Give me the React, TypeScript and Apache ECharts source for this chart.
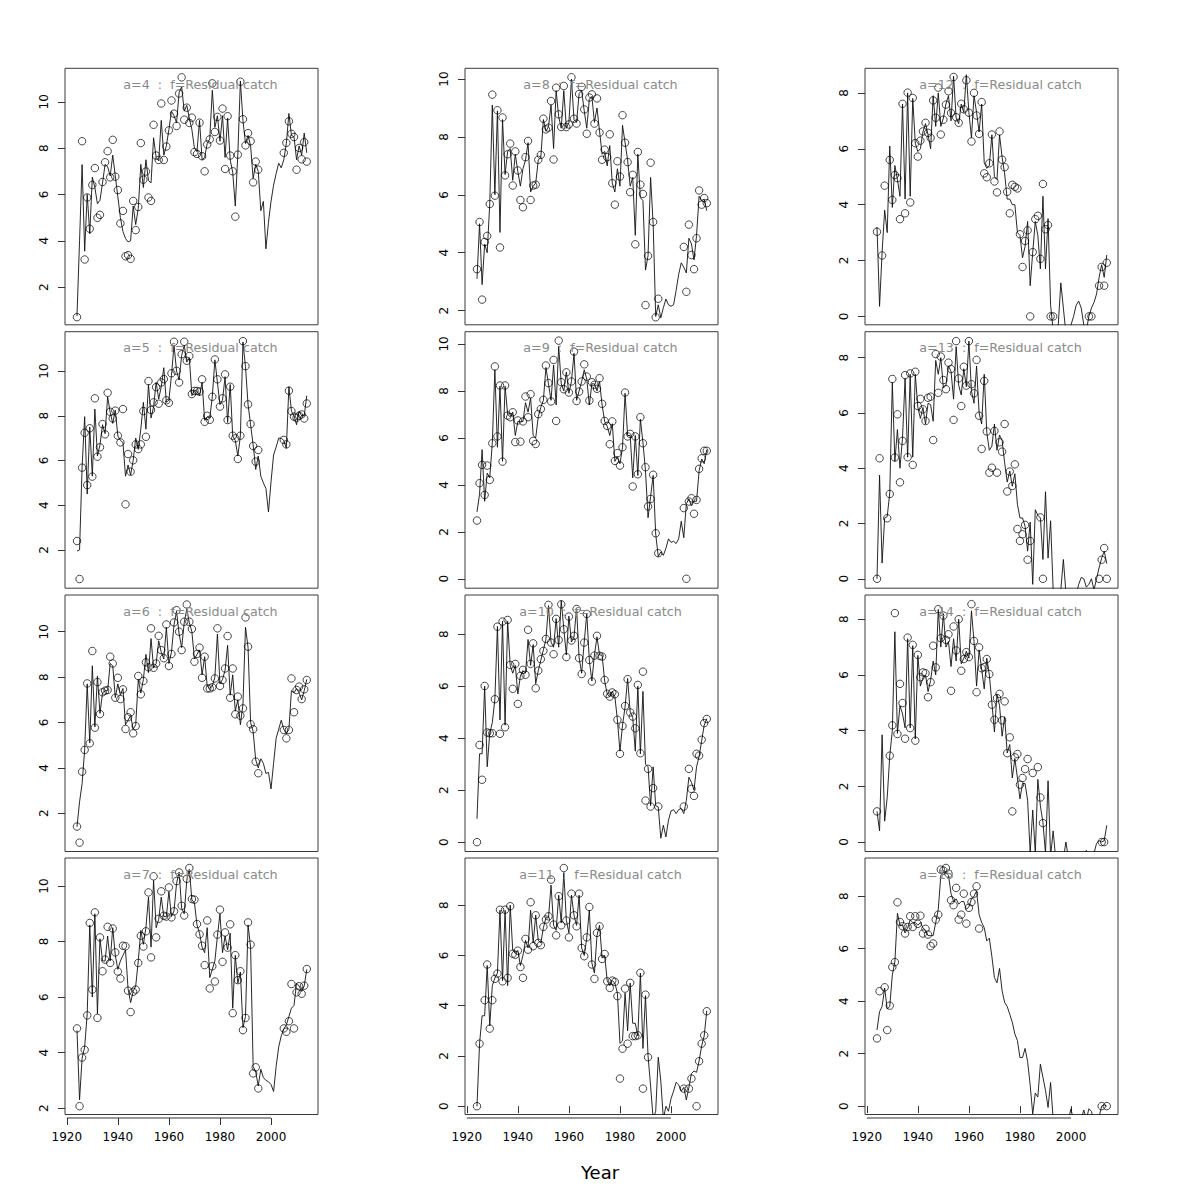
import React, { useEffect, useRef } from "react";
import * as echarts from "echarts";

const _ = null;
const FIRST_YEAR = 1924;
const X_MIN = 1919.3;
const X_MAX = 2018.4;
const xTicks = [1920, 1940, 1960, 1980, 2000];
const ticksFrom2 = [2, 4, 6, 8, 10];
const ticksFrom0to8 = [0, 2, 4, 6, 8];
const ticksFrom0to10 = [0, 2, 4, 6, 8, 10];
const xTitle = "Year";
const titleSuffix = "  :  f=Residual catch";

// ---- age 4 ----
const line4 = [
  0.75, 4.0, 7.29, 3.55, 6.0, 4.3, 6.75, 6.3, 5.6, 5.75,
  6.5, 7.3, 7.2, 6.8, 7.7, 6.8, 5.9, 5.0, 4.4, 4.1,
  3.95, 4.0, 5.5, 4.7, 5.4, 7.3, 6.3, 7.5, 6.6, 6.5,
  8.45, 7.6, 7.45, 9.2, 7.7, 8.1, 8.8, 9.6, 9.4, 9.1,
  10.4, 10.65, 9.6, 9.85, 9.3, 8.8, 8.0, 7.85, 9.2, 7.5,
  7.6, 8.2, 8.4, 10.5, 8.9, 9.4, 8.3, 9.4, 7.6, 9.3,
  7.5, 6.95, 5.5, 7.75, 10.9, 9.2, 8.2, 8.55, 8.1, 6.7,
  7.3, 7.0, 5.3, 5.7, 3.65, 4.8, 5.7, 6.4, 6.9, 7.35,
  7.15, 7.5, 8.2, 9.5, 8.55, 8.5, 7.5, 8.1, 7.7, 8.65,
  7.8,
];
const obs4 = [
  0.70, _, 8.30, 3.19, 5.87, 4.52, 6.41, 7.14, 4.99, 5.12,
  6.54, 7.39, 7.87, 6.74, 8.36, 6.77, 6.19, 4.75, 5.29, 3.33,
  3.38, 3.22, 5.72, 4.46, 5.46, 8.22, 6.64, 6.99, 5.87, 5.72,
  9.01, 7.68, 7.49, 9.93, 7.49, 8.07, 8.77, 10.06, 9.49, 8.96,
  10.36, 11.06, 9.23, 9.75, 9.09, 9.32, 7.83, 7.75, 9.10, 7.65,
  7.00, 8.16, 8.38, 10.80, 8.70, 9.35, 8.33, 9.71, 7.10, 9.38,
  7.68, 7.00, 5.04, 7.72, 10.87, 9.25, 8.12, 8.65, 8.30, 6.52,
  7.42, 7.07, _, _, _, _, _, _, _, _,
  _, 7.80, 8.23, 9.16, 8.62, 8.48, 7.07, 8.01, 7.52, 8.26,
  7.42,
];

// ---- age 5 ----
const line5 = [
  1.95, 2.0, 5.7, 7.96, 4.5, 7.5, 5.3, 8.3, 6.2, 6.7,
  7.6, 7.2, 8.85, 8.15, 7.66, 8.25, 7.1, 6.9, 6.8, 5.3,
  5.8, 5.35, 6.0, 7.0, 6.5, 7.4, 8.6, 7.4, 9.4, 7.9,
  8.4, 9.5, 8.75, 9.3, 10.15, 8.6, 8.7, 9.8, 11.16, 10.0,
  9.6, 10.7, 11.16, 10.4, 10.6, 8.9, 9.15, 9.1, 8.9, 9.5,
  7.8, 7.95, 7.9, 8.85, 10.5, 9.5, 8.5, 8.7, 9.75, 7.7,
  9.4, 7.1, 6.9, 6.2, 7.1, 11.3, 10.2, 8.5, 7.6, 6.7,
  5.6, 6.2, 5.3, 5.0, 4.75, 3.7, 5.05, 6.25, 6.6, 7.0,
  7.0, 6.9, 6.55, 9.3, 8.2, 8.0, 7.6, 8.2, 8.0, 8.0,
  8.9,
];
const obs5 = [
  2.40, 0.70, 5.68, 7.24, 4.90, 7.44, 5.28, 8.78, 6.17, 6.59,
  7.63, 7.17, 9.03, 8.18, 7.88, 8.23, 7.11, 6.81, 8.30, 4.04,
  6.29, 5.50, 6.01, 6.72, 6.51, 6.72, 8.21, 7.06, 9.55, 8.26,
  8.60, 9.28, 8.54, 9.49, 9.64, 8.69, 8.58, 9.90, 11.31, 10.01,
  9.49, 10.75, 11.31, 10.46, 10.67, 8.97, 9.11, 9.11, 9.08, 9.63,
  7.73, 8.00, 7.82, 8.85, 10.52, 9.63, 8.41, 8.78, 9.85, 7.81,
  9.30, 7.11, 6.99, 6.07, 7.11, 11.34, 10.22, 8.51, 7.63, 6.65,
  5.95, 6.47, _, _, _, _, _, _, _, _,
  _, 6.92, 6.72, 9.12, 8.21, 7.96, 7.91, 8.00, 8.06, 7.88,
  8.55,
];

// ---- age 6 ----
const line6 = [
  1.4, 2.5, 3.3, 4.8, 7.7, 5.1, 8.5, 5.8, 8.05, 6.4,
  7.3, 7.4, 7.4, 8.6, 8.5, 7.1, 7.7, 7.2, 7.5, 5.9,
  6.1, 6.3, 5.7, 5.9, 7.9, 7.3, 7.9, 9.0, 8.2, 9.7,
  8.4, 8.6, 9.6, 9.1, 8.8, 10.2, 8.6, 9.1, 10.3, 10.9,
  9.9, 9.3, 10.4, 11.0, 10.4, 10.0, 8.8, 9.0, 9.2, 8.1,
  8.9, 7.6, 7.5, 7.6, 8.0, 9.9, 7.7, 7.9, 8.3, 9.4,
  7.2, 8.1, 6.5, 7.0, 5.9, 6.8, 10.2, 9.3, 6.0, 5.6,
  4.35, 4.0, 4.4, 4.2, 3.75, 3.8, 3.07, 4.2, 5.3, 5.7,
  6.1, 5.7, 5.5, 5.7, 7.4, 7.3, 7.5, 7.3, 7.0, 7.4,
  7.9,
];
const obs6 = [
  1.41, 0.70, 3.83, 4.79, 7.72, 5.08, 9.15, 5.77, 7.78, 6.37,
  7.33, 7.40, 7.43, 8.90, 8.60, 7.09, 7.97, 7.03, 7.46, 5.71,
  6.23, 6.45, 5.52, 5.84, 8.05, 7.24, 7.83, 8.65, 8.43, 10.15,
  8.41, 8.60, 9.82, 9.19, 8.83, 10.32, 8.49, 9.02, 10.41, 10.95,
  10.00, 9.19, 10.44, 11.20, 10.44, 10.12, 8.68, 9.02, 9.30, 7.97,
  8.90, 7.50, 7.50, 7.55, 7.94, 10.15, 7.61, 7.87, 8.38, 9.81,
  7.09, 8.38, 6.36, 7.14, 6.30, 6.62, 10.63, 9.34, 5.92, 5.70,
  4.27, 3.76, _, _, _, _, _, _, _, _,
  _, 5.67, 5.30, 5.67, 7.94, 6.45, 7.43, 7.58, 7.03, 7.46,
  7.87,
];

// ---- age 7 ----
const line7 = [
  4.8, 2.3, 3.8, 4.2, 5.4, 8.6, 6.0, 9.0, 5.4, 8.1,
  7.3, 7.3, 8.2, 7.3, 8.5, 7.5, 7.0, 7.3, 7.5, 7.7,
  6.3, 5.8, 6.2, 6.4, 7.3, 8.4, 7.9, 8.5, 9.6, 7.8,
  10.2, 8.5, 8.8, 9.6, 8.9, 8.9, 9.8, 8.9, 9.1, 10.1,
  10.5, 9.2, 9.0, 10.2, 10.6, 9.5, 9.4, 8.6, 8.3, 7.8,
  7.6, 8.5, 6.7, 7.0, 7.3, 8.2, 9.0, 7.6, 8.2, 7.7,
  8.3, 5.6, 7.5, 6.5, 6.9, 4.9, 5.3, 8.6, 7.8, 3.5,
  3.3, 2.8, 3.4, 3.1, 3.0, 2.95, 2.85, 2.6, 3.5, 4.2,
  4.6, 4.85, 5.0, 5.3, 5.6, 5.7, 6.5, 6.4, 6.2, 6.4,
  7.0,
];
const obs7 = [
  4.87, 2.07, 3.82, 4.10, 5.34, 8.67, 6.27, 9.05, 5.25, 8.15,
  6.93, 7.35, 8.53, 7.23, 8.47, 7.61, 6.92, 6.67, 7.85, 7.83,
  6.23, 5.46, 6.19, 6.27, 7.23, 8.21, 7.82, 8.37, 9.77, 7.43,
  10.35, 8.15, 8.82, 9.81, 8.93, 8.90, 9.95, 8.87, 9.09, 10.18,
  10.49, 9.29, 8.94, 10.26, 10.65, 9.53, 9.51, 8.63, 8.26, 7.85,
  7.15, 8.76, 6.31, 7.11, 6.56, 8.25, 9.15, 7.27, 8.33, 7.78,
  8.62, 5.42, 7.51, 6.61, 6.93, 4.81, 5.25, 8.69, 7.89, 3.25,
  3.47, 2.71, _, _, _, _, _, _, _, _,
  _, 4.87, 4.75, 5.13, 6.47, 4.87, 6.17, 6.39, 6.12, 6.41,
  7.01,
];

// ---- age 8 ----
const line8 = [
  3.1, 5.0, 2.9, 4.3, 4.0, 5.7, 9.1, 6.0, 8.9, 4.7,
  8.6, 6.7, 7.5, 7.6, 6.5, 7.4, 6.8, 6.3, 6.9, 7.2,
  7.8, 6.1, 6.3, 6.4, 7.2, 7.3, 8.6, 8.2, 8.35, 9.1,
  7.6, 9.6, 8.7, 8.3, 9.6, 8.3, 8.5, 10.0, 8.6, 8.5,
  9.5, 9.6, 8.9, 8.3, 9.3, 9.4, 8.5, 9.0, 8.2, 7.4,
  7.5, 7.0, 7.7, 6.4, 6.1, 6.9, 6.3, 8.4, 7.8, 7.2,
  6.3, 6.6, 4.6, 7.4, 5.9, 5.8, 3.4, 3.9, 6.6, 5.0,
  1.8, 2.2, 1.75, 2.1, 2.4, 2.2, 2.15, 2.2, 2.7, 3.25,
  3.65, 3.5, 3.3, 4.5, 4.3, 3.75, 4.6, 5.95, 5.8, 5.85,
  5.45,
];
const obs8 = [
  3.43, 5.06, 2.38, 4.37, 4.58, 5.68, 9.46, 5.97, 8.92, 4.18,
  8.67, 6.67, 7.40, 7.77, 6.32, 7.50, 6.84, 5.82, 5.57, 7.30,
  7.86, 5.82, 6.32, 6.35, 7.21, 7.38, 8.63, 8.26, 8.32, 9.24,
  7.22, 9.70, 8.78, 8.34, 9.76, 8.34, 8.43, 10.06, 8.63, 8.46,
  9.48, 9.73, 8.95, 8.11, 9.36, 9.47, 8.46, 9.33, 8.15, 7.21,
  7.56, 7.30, 8.09, 6.40, 5.66, 7.16, 6.63, 8.75, 7.80, 7.13,
  6.09, 6.69, 4.29, 7.48, 6.35, 6.03, 2.19, 3.89, 7.11, 5.06,
  1.77, 2.41, _, _, _, _, _, _, _, _,
  _, 4.20, 2.65, 4.97, 3.92, 3.43, 4.50, 6.15, 5.66, 5.89,
  5.71,
];

// ---- age 9 ----
const line9 = [
  2.85, 3.6, 5.5, 3.3, 4.5, 4.3, 5.8, 8.9, 5.6, 8.2,
  5.0, 8.2, 7.0, 6.9, 7.1, 6.1, 6.7, 6.7, 6.7, 7.5,
  7.1, 7.7, 6.1, 6.0, 6.9, 7.3, 7.6, 9.0, 8.3, 7.6,
  9.1, 7.4, 9.9, 8.3, 8.0, 8.8, 7.9, 8.4, 9.6, 7.6,
  8.0, 8.4, 8.9, 8.5, 7.4, 8.3, 8.3, 8.0, 8.4, 7.4,
  6.7, 6.5, 6.1, 6.6, 5.0, 5.2, 4.9, 5.6, 7.9, 6.1,
  6.1, 4.3, 6.1, 4.4, 6.8, 5.8, 4.6, 2.6, 3.5, 4.4,
  1.9, 0.95, 1.15, 1.0, 1.3, 1.7, 1.55, 1.6, 1.5, 1.7,
  2.45, 1.75, 3.2, 3.4, 3.1, 3.3, 3.3, 4.6, 5.1, 4.9,
  5.5,
];
const obs9 = [
  2.48, 4.07, 4.85, 3.57, 4.82, 4.21, 5.77, 9.04, 6.06, 8.23,
  4.99, 8.23, 6.95, 6.88, 7.09, 5.82, 6.74, 5.84, 6.70, 7.76,
  6.88, 7.86, 5.87, 5.74, 7.01, 7.23, 7.62, 9.08, 8.33, 7.55,
  9.32, 6.72, 10.14, 8.37, 8.07, 8.79, 7.93, 8.40, 9.67, 7.57,
  7.97, 8.40, 9.13, 8.61, 7.59, 8.37, 8.26, 8.09, 8.54, 7.45,
  6.72, 6.51, 5.73, 6.70, 5.02, 5.35, 4.82, 5.60, 7.93, 6.06,
  6.17, 3.93, 6.06, 4.45, 6.88, 5.77, 4.75, 3.08, 3.40, 4.43,
  1.94, 1.09, _, _, _, _, _, _, _, _,
  _, 3.01, 0.00, 3.29, 3.43, 2.77, 3.36, 4.68, 5.13, 5.45,
  5.45,
];

// ---- age 10 ----
const line10 = [
  0.9, 3.4, 3.4, 6.0, 2.9, 4.2, 4.6, 5.5, 8.3, 4.7,
  8.5, 4.5, 8.5, 6.8, 6.5, 6.8, 5.7, 6.4, 6.6, 6.5,
  7.8, 6.8, 7.6, 6.1, 6.6, 7.0, 7.4, 7.8, 9.1, 7.7,
  7.5, 8.6, 7.5, 9.3, 8.2, 7.2, 8.7, 7.7, 7.9, 9.0,
  7.1, 6.5, 7.7, 8.8, 7.0, 6.2, 7.2, 7.9, 7.2, 7.2,
  6.2, 5.7, 5.6, 5.8, 5.6, 4.7, 3.5, 4.5, 5.2, 6.3,
  5.0, 4.8, 3.5, 6.0, 3.4, 5.8, 3.0, 2.9, 1.4, 2.9,
  1.4, 1.35, 0.15, 0.65, 0.2, 0.85, 1.2, 1.25, 1.1, 1.25,
  1.3, 1.1, 1.6, 2.5, 2.3, 2.0, 2.9, 3.3, 3.9, 4.5,
  4.75,
];
const obs10 = [
  0.00, 3.74, 2.40, 6.01, 4.22, 4.19, 4.19, 5.50, 8.29, 4.17,
  8.49, 4.42, 8.55, 6.82, 5.90, 6.86, 5.32, 6.40, 6.63, 6.44,
  8.17, 6.86, 7.65, 5.92, 6.60, 7.04, 7.36, 7.82, 9.13, 7.68,
  7.23, 8.59, 7.78, 9.15, 8.19, 7.12, 8.68, 7.76, 7.94, 8.97,
  7.08, 6.47, 7.68, 8.78, 7.01, 6.18, 7.18, 7.94, 7.17, 7.14,
  6.24, 5.71, 5.60, 5.76, 5.69, 4.71, 3.40, 4.47, 5.24, 6.27,
  4.99, 4.83, 4.38, 6.05, 3.42, 6.56, 1.60, 2.82, 1.37, 2.08,
  _, 1.37, _, _, _, _, _, _, _, _,
  _, 1.37, _, 2.82, 2.05, 1.78, 3.40, 3.33, 3.94, 4.58,
  4.74,
];

// ---- age 11 ----
const line11 = [
  0.0, 2.5, 3.6, 3.6, 5.6, 3.2, 4.8, 5.1, 5.3, 7.8,
  5.0, 7.8, 4.8, 8.0, 6.2, 6.1, 6.2, 5.6, 6.0, 6.6,
  6.3, 7.8, 6.5, 7.6, 6.6, 6.5, 7.1, 7.5, 7.5, 8.8,
  7.2, 7.0, 8.4, 7.3, 9.3, 7.4, 6.9, 8.4, 7.6, 7.2,
  8.4, 6.3, 6.0, 6.7, 7.8, 5.7, 5.3, 6.8, 7.2, 5.9,
  6.0, 5.0, 4.8, 5.0, 4.9, 4.5, 2.5, 2.6, 4.5, 3.0,
  4.9, 3.3, 3.3, 2.8, 5.3, 2.3, 4.4, 2.0, 0.8, -0.5,
  -0.2, 1.95, 1.0, -0.5, 0.0, -0.2, 0.3, 0.6, 0.95, 0.85,
  0.6, 0.75, 0.25, 0.75, 1.3, 1.4, 1.35, 1.8, 2.4, 2.8,
  3.8,
];
const obs11 = [
  0.00, 2.49, _, 4.22, 5.64, 3.09, 4.22, 5.07, 5.28, 7.82,
  4.97, 7.82, 5.11, 7.96, 6.07, 6.03, 6.19, 5.54, 5.11, 6.66,
  6.23, 8.12, 6.37, 7.60, 6.50, 6.41, 7.14, 7.43, 7.56, 9.02,
  7.23, 6.80, 8.36, 7.20, 9.48, 7.39, 6.72, 8.46, 7.60, 7.16,
  8.46, 6.30, 5.97, 6.72, 7.93, 5.64, 5.07, 6.90, 7.16, 5.86,
  6.06, 4.97, 4.71, 5.00, 4.95, 4.38, 1.10, 2.29, 4.68, 2.49,
  4.91, 2.79, 2.79, 2.82, 5.31, 0.70, 4.44, 1.95, _, _,
  _, _, _, _, _, _, _, _, _, _,
  _, 0.70, _, 0.70, 1.10, _, 0.00, 1.79, 2.49, 2.82,
  3.78,
];

// ---- age 12 ----
const line12 = [
  3.2, 0.36, 2.3, 3.8, 3.0, 6.1, 3.9, 5.4, 4.9, 4.3,
  7.6, 4.2, 8.0, 4.3, 7.8, 6.2, 5.9, 6.0, 6.6, 6.9,
  6.5, 6.0, 7.9, 6.8, 8.0, 6.8, 7.1, 7.6, 7.9, 7.0,
  8.6, 7.1, 6.9, 7.6, 7.3, 8.65, 7.3, 6.4, 7.9, 7.3,
  6.6, 7.6, 5.5, 5.3, 5.4, 6.5, 5.0, 4.9, 6.5, 5.7,
  5.1, 4.2, 4.2, 4.0, 4.0, 3.0, 2.9, 2.1, 2.5, 3.4,
  1.1, 2.3, 3.4, 2.9, 1.7, 4.3, 1.7, 3.5, 0.4, -0.5,
  -0.6, -0.3, 1.2, 0.3, -0.6, -0.6, -0.3, 0.0, 0.4, 0.55,
  0.3, -0.3, -0.5, 0.0, 0.3, 0.5, 0.8, 1.4, 1.85, 1.4,
  2.2,
];
const obs12 = [
  3.03, _, 2.18, 4.68, _, 5.60, 4.17, 5.06, 4.95, 3.48,
  7.61, 3.69, 8.01, 4.08, 7.82, 6.20, 5.72, 6.29, 6.62, 6.93,
  6.57, 6.39, 7.73, 7.11, 8.19, 6.51, 7.04, 7.58, 8.06, 7.28,
  8.57, 7.13, 6.93, 7.61, 7.41, 8.45, 7.29, 6.26, 8.00, 7.19,
  6.53, 7.67, 5.12, 4.98, 5.48, 6.51, 4.83, 4.44, 6.62, 5.61,
  5.34, 4.46, 3.69, 4.71, 4.64, 4.58, 2.94, 1.77, 2.70, 3.08,
  0.00, 2.30, 3.48, 3.60, 2.06, 4.74, 3.12, 3.27, 0.00, 0.00,
  _, _, _, _, _, _, _, _, _, _,
  _, _, _, 0.00, 0.00, _, _, 1.10, 1.77, 1.10,
  1.92,
];

// ---- age 13 ----
const line13 = [
  0.0, 3.75, 0.57, 2.2, 2.25, 3.1, 7.1, 4.25, 5.4, 4.0,
  5.1, 7.25, 4.4, 7.4, 4.4, 7.4, 6.2, 5.8, 6.2, 5.6,
  6.35, 6.3, 5.7, 7.9, 7.4, 8.0, 6.9, 7.0, 7.7, 7.5,
  6.5, 8.4, 7.0, 6.65, 7.6, 6.95, 8.6, 6.8, 6.35, 7.7,
  6.0, 5.6, 7.4, 5.3, 4.65, 4.8, 5.6, 4.65, 5.2, 5.0,
  4.2, 3.5, 3.9, 3.35, 3.8, 2.7, 2.2, 2.2, 1.9, 1.0,
  2.05, -0.2, 2.5, 2.3, 2.2, 0.7, 3.15, 0.75, 2.1, -0.4,
  -0.6, -0.6, -0.4, 0.7, -0.5, -0.6, -0.5, -0.4, -0.6, -0.2,
  0.05, 0.0, -0.3, -0.2, 0.0, -0.4, 0.0, 0.4, 0.75, 1.0,
  0.55,
];
const obs13 = [
  0.00, 4.36, _, _, 2.19, 3.07, 7.23, 4.39, 5.95, 3.49,
  4.99, 7.37, 4.40, 7.43, 4.12, 7.49, 6.25, 6.51, 6.13, 5.71,
  6.55, 6.59, 5.02, 8.13, 6.73, 8.04, 7.19, 6.86, 7.82, 7.59,
  5.75, 8.60, 7.25, 6.25, 7.67, 6.99, 8.60, 7.04, 6.71, 7.92,
  5.90, 4.70, 7.16, 5.33, 3.84, 4.02, 5.35, 3.84, 4.94, 4.60,
  5.60, 3.16, 3.88, 3.36, 4.14, 1.80, 1.37, 1.61, 1.95, 0.69,
  1.37, _, _, _, 2.22, 0.00, _, _, _, _,
  _, _, _, _, _, _, _, _, _, _,
  _, _, _, _, _, _, _, 0.00, 0.69, 1.11,
  0.00,
];

// ---- age 14 ----
const line14 = [
  1.1, 0.4, 3.85, 0.75, 1.6, 3.1, 4.0, 7.55, 3.9, 4.9,
  4.6, 4.1, 7.3, 4.1, 7.05, 3.7, 6.7, 5.6, 5.9, 6.0,
  5.4, 5.8, 6.5, 6.0, 8.35, 7.0, 8.2, 7.0, 7.2, 6.3,
  7.3, 6.5, 8.0, 6.4, 6.6, 6.85, 6.6, 8.3, 7.2, 5.6,
  6.9, 6.2, 5.5, 6.6, 6.0, 5.0, 3.95, 5.3, 4.9, 3.8,
  4.5, 3.2, 3.5, 2.3, 3.0, 2.3, 1.55, 2.1, 2.1, 1.5,
  -0.4, 1.15, -0.4, 2.25, 1.3, 0.7, -0.4, 2.2, -0.5, 0.4,
  -0.6, -0.6, -0.6, -0.6, 0.0, -0.6, -0.6, -0.5, -0.6, -0.5,
  -0.6, -0.5, -0.3, -0.5, -0.6, -0.4, -0.05, 0.05, 0.0, 0.05,
  0.6,
];
const obs14 = [
  1.10, _, _, _, _, 3.10, 4.19, 8.22, 3.88, 5.68,
  4.99, 3.71, 7.34, 4.09, 7.08, 3.64, 6.72, 5.92, 6.09, 6.06,
  5.20, 5.74, 7.05, 6.27, 8.36, 7.32, 8.13, 7.26, 7.46, 5.43,
  7.74, 6.88, 8.00, 6.15, 6.57, 6.82, 6.64, 8.54, 7.22, 5.38,
  6.99, 6.24, 6.28, 6.57, 6.03, 4.93, 4.39, 5.17, 5.32, 4.37,
  5.05, 3.19, 3.76, 1.10, 3.04, 3.16, 2.06, 2.30, 2.62, 2.98,
  _, 2.48, _, 2.69, 1.60, 0.68, _, _, _, _,
  _, _, _, _, _, _, _, _, _, _,
  _, _, _, _, _, _, _, _, 0.00, 0.00,
  _,
];

// ---- age 15 ----
const line15 = [
  2.9, 3.6, 3.8, 4.5, 3.7, 3.8, 5.0, 5.5, 7.35, 6.9,
  6.9, 6.6, 6.8, 7.1, 7.0, 7.0, 6.9, 7.0, 6.8, 6.7,
  6.5, 6.5, 6.5, 7.0, 7.5, 8.8, 8.9, 8.9, 8.8, 8.1,
  7.8, 7.9, 7.7, 7.8, 7.8, 7.5, 7.6, 7.9, 8.0, 8.2,
  7.3, 7.0, 6.8, 6.3, 6.4, 5.7, 4.9, 4.7, 5.25, 4.4,
  3.95, 3.8, 3.5, 3.2, 2.75, 2.5, 1.85, 1.85, 2.2, 1.7,
  0.8, -0.3, 0.5, 0.35, 1.6, 1.1, 0.6, -0.05, 0.9, -0.5,
  -0.7, -0.6, -0.6, -0.6, -0.6, -0.5, -0.1, -0.6, -0.6, -0.6,
  -0.5, -0.15, -0.5, -0.1, -0.2, -0.6, -0.6, -0.4, 0.0, 0.05,
  0.0,
];
const obs15 = [
  2.58, 4.38, _, 4.53, 2.90, 3.83, 5.30, 5.49, 7.77, 7.02,
  6.86, 6.58, 6.83, 7.24, 6.83, 7.24, 6.95, 7.26, 6.58, 6.76,
  6.54, 6.10, 6.20, 7.11, 7.30, 9.02, 8.98, 9.08, 8.86, 7.85,
  7.66, 8.32, 7.11, 7.30, 8.10, 6.96, 7.56, 7.78, 8.10, 8.38,
  6.77, _, _, _, _, _, _, _, _, _,
  _, _, _, _, _, _, _, _, _, _,
  _, _, _, _, _, _, _, _, _, _,
  _, _, _, _, _, _, _, _, _, _,
  _, _, _, _, _, _, _, _, 0.00, _,
  0.00,
];

// Panels in column-major order (as drawn: columns of 4 rows)
const panels = [
  { age: 4, line: line4, obs: obs4, yMin: 0.37, yMax: 11.45, yTicks: ticksFrom2 },
  { age: 5, line: line5, obs: obs5, yMin: 0.29, yMax: 11.76, yTicks: ticksFrom2 },
  { age: 6, line: line6, obs: obs6, yMin: 0.31, yMax: 11.62, yTicks: ticksFrom2 },
  { age: 7, line: line7, obs: obs7, yMin: 1.77, yMax: 11.01, yTicks: ticksFrom2 },
  { age: 8, line: line8, obs: obs8, yMin: 1.51, yMax: 10.37, yTicks: ticksFrom2 },
  { age: 9, line: line9, obs: obs9, yMin: -0.4, yMax: 10.52, yTicks: ticksFrom0to10 },
  { age: 10, line: line10, obs: obs10, yMin: -0.36, yMax: 9.51, yTicks: ticksFrom0to8 },
  { age: 11, line: line11, obs: obs11, yMin: -0.33, yMax: 9.88, yTicks: ticksFrom0to8 },
  { age: 12, line: line12, obs: obs12, yMin: -0.3, yMax: 8.88, yTicks: ticksFrom0to8 },
  { age: 13, line: line13, obs: obs13, yMin: -0.34, yMax: 8.94, yTicks: ticksFrom0to8 },
  { age: 14, line: line14, obs: obs14, yMin: -0.34, yMax: 8.87, yTicks: ticksFrom0to8 },
  { age: 15, line: line15, obs: obs15, yMin: -0.32, yMax: 9.46, yTicks: ticksFrom0to8 },
];

const COL_LEFT = [65, 465, 865];
const COL_WIDTH = 253;
const ROW_TOP = [68.3, 331.7, 595, 858];
const ROW_HEIGHT = 256.5;
const FONT = "DejaVu Sans";

export default function App() {
  const ref = useRef<HTMLDivElement | null>(null);

  useEffect(() => {
    if (!ref.current) return;
    const chart = echarts.init(ref.current, undefined, { renderer: "svg" });

    const grids: any[] = [];
    const xAxes: any[] = [];
    const yAxes: any[] = [];
    const series: any[] = [];
    const texts: any[] = [];

    panels.forEach((p, i) => {
      const col = Math.floor(i / 4);
      const row = i % 4;
      const left = COL_LEFT[col];
      const top = ROW_TOP[row];
      const bottomRow = row === 3;
      grids.push({
        left,
        top,
        width: COL_WIDTH,
        height: ROW_HEIGHT,
        show: true,
        borderColor: "#3a3a3a",
        borderWidth: 1,
        backgroundColor: "transparent",
      });
      xAxes.push({
        type: "value",
        gridIndex: i,
        min: X_MIN,
        max: X_MAX,
        position: "bottom",
        offset: 3.5,
        axisLine: { show: false },
        splitLine: { show: false },
        axisTick: {
          show: bottomRow,
          customValues: xTicks,
          length: 7,
          lineStyle: { color: "#333", width: 1 },
        },
        axisLabel: {
          show: bottomRow,
          customValues: xTicks,
          margin: 13,
          color: "#000",
          fontFamily: FONT,
          fontSize: 12,
          formatter: (v: number) => String(v),
        },
      });
      yAxes.push({
        type: "value",
        gridIndex: i,
        min: p.yMin,
        max: p.yMax,
        axisLine: { show: false },
        splitLine: { show: false },
        axisTick: {
          show: true,
          customValues: p.yTicks,
          length: 7,
          lineStyle: { color: "#333", width: 1 },
        },
        axisLabel: {
          show: true,
          customValues: p.yTicks,
          rotate: 90,
          margin: 15,
          color: "#000",
          fontFamily: FONT,
          fontSize: 12,
          formatter: (v: number) => String(v),
        },
      });
      series.push({
        type: "line",
        xAxisIndex: i,
        yAxisIndex: i,
        data: p.line.map((v, k) => [FIRST_YEAR + k, v]),
        showSymbol: false,
        symbol: "none",
        clip: true,
        silent: true,
        lineStyle: { color: "#111", width: 0.9 },
        z: 2,
      });
      series.push({
        type: "scatter",
        xAxisIndex: i,
        yAxisIndex: i,
        data: p.obs
          .map((v, k) => [FIRST_YEAR + k, v])
          .filter((d) => d[1] !== null),
        symbol: "circle",
        symbolSize: 7.5,
        clip: false,
        silent: true,
        itemStyle: {
          color: "rgba(0,0,0,0)",
          borderColor: "#000",
          borderWidth: 0.9,
        },
        z: 3,
      });
      texts.push({
        type: "text",
        id: "title" + i,
        x: left + 135.5,
        y: top + 16,
        z: 10,
        style: {
          text: "a=" + p.age + titleSuffix,
          fill: "#8a8a8a",
          font: `12.7px '${FONT}'`,
          textAlign: "center",
          textVerticalAlign: "middle",
        },
      });
    });

    texts.push({
      type: "text",
      id: "xname",
      x: 600,
      y: 1172,
      style: {
        text: xTitle,
        fill: "#000",
        font: `18px '${FONT}'`,
        textAlign: "center",
        textVerticalAlign: "middle",
      },
    });

    chart.setOption({
      animation: false,
      grid: grids,
      xAxis: xAxes,
      yAxis: yAxes,
      series,
      graphic: { elements: texts },
    });

    // R draws the bottom x axis line from the first to the last tick
    const lines: any[] = [];
    panels.forEach((_p, i) => {
      const col = Math.floor(i / 4);
      const row = i % 4;
      if (row !== 3) return;
      const x0 = chart.convertToPixel({ xAxisIndex: i }, xTicks[0]) as number;
      const x1 = chart.convertToPixel(
        { xAxisIndex: i },
        xTicks[xTicks.length - 1]
      ) as number;
      const y = ROW_TOP[row] + ROW_HEIGHT + 3.5;
      lines.push({
        type: "line",
        id: "axisline" + col,
        shape: { x1: x0, y1: y, x2: x1, y2: y },
        style: { stroke: "#333", lineWidth: 1 },
      });
    });
    chart.setOption({ graphic: { elements: [...texts, ...lines] } });

    return () => {
      chart.dispose();
    };
  }, []);

  return (
    <div
      ref={ref}
      style={{
        position: "absolute",
        left: 0,
        top: 0,
        width: 1200,
        height: 1200,
        background: "#fff",
      }}
    />
  );
}
